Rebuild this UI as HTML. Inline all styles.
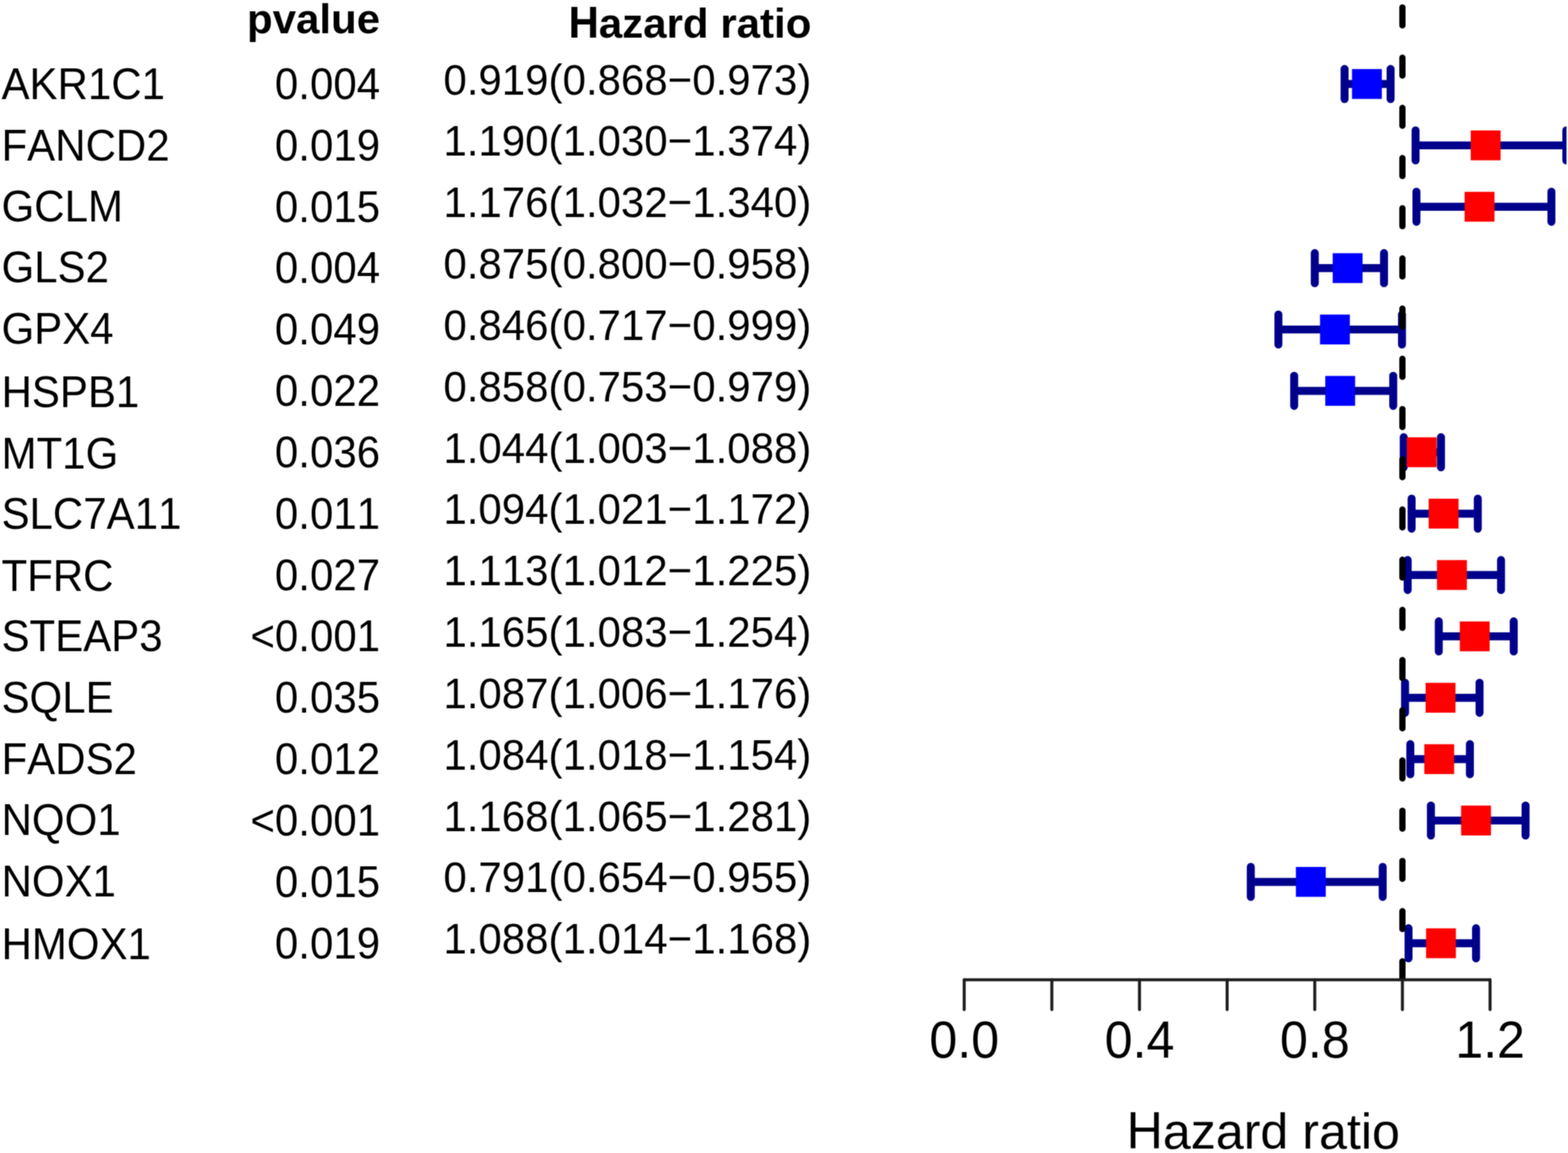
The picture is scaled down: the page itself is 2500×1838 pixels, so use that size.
<!DOCTYPE html><html><head><meta charset="utf-8"><title>Forest plot</title><style>html,body{margin:0;padding:0;background:#fff;}svg{display:block;}text{font-kerning:none;font-feature-settings:"kern" 0,"liga" 0;font-family:"Liberation Sans",Arial,Helvetica,sans-serif;fill:#000;}</style></head><body>
<div id="w"><svg width="2500" height="1838" viewBox="0 0 2500 1838">
<defs><filter id="soft" filterUnits="userSpaceOnUse" x="0" y="0" width="2500" height="1838" color-interpolation-filters="sRGB"><feConvolveMatrix order="3" kernelMatrix="1 2 1 2 4 2 1 2 1" divisor="16" edgeMode="duplicate"/></filter></defs>
<g filter="url(#soft)">
<rect width="2500" height="1838" fill="#fff"/>
<defs><clipPath id="pr"><rect x="1532.3" y="-100" width="965.3" height="1662.3"/></clipPath></defs>
<g font-size="67">
<text x="606" y="52.9" text-anchor="end" font-weight="bold">pvalue</text>
<text x="1293.6" y="60.4" text-anchor="end" font-weight="bold">azard ratio</text>
<text transform="translate(954.77 60.4) scale(1 1.040)" text-anchor="end" font-weight="bold">H</text>
<text transform="translate(2.4 158.4) scale(1 1.040)">AKR1C1</text>
<text transform="translate(606 157.95) scale(1 1.040)" text-anchor="end">0.004</text>
<text transform="translate(1293.6 150.65) scale(1 1.035)" text-anchor="end">0.919(0.868−0.973)</text>
<text transform="translate(2.4 256.2) scale(1 1.040)">FANCD2</text>
<text transform="translate(606 255.78) scale(1 1.040)" text-anchor="end">0.019</text>
<text transform="translate(1293.6 248.48) scale(1 1.035)" text-anchor="end">1.190(1.030−1.374)</text>
<text transform="translate(2.4 353.2) scale(1 1.040)">GCLM</text>
<text transform="translate(606 353.6) scale(1 1.040)" text-anchor="end">0.015</text>
<text transform="translate(1293.6 346.3) scale(1 1.035)" text-anchor="end">1.176(1.032−1.340)</text>
<text transform="translate(2.4 450.4) scale(1 1.040)">GLS2</text>
<text transform="translate(606 451.43) scale(1 1.040)" text-anchor="end">0.004</text>
<text transform="translate(1293.6 444.13) scale(1 1.035)" text-anchor="end">0.875(0.800−0.958)</text>
<text transform="translate(2.4 547.65) scale(1 1.040)">GPX4</text>
<text transform="translate(606 549.26) scale(1 1.040)" text-anchor="end">0.049</text>
<text transform="translate(1293.6 541.96) scale(1 1.035)" text-anchor="end">0.846(0.717−0.999)</text>
<text transform="translate(2.4 648.5) scale(1 1.040)">HSPB1</text>
<text transform="translate(606 647.08) scale(1 1.040)" text-anchor="end">0.022</text>
<text transform="translate(1293.6 639.78) scale(1 1.035)" text-anchor="end">0.858(0.753−0.979)</text>
<text transform="translate(2.4 746.5) scale(1 1.040)">MT1G</text>
<text transform="translate(606 744.91) scale(1 1.040)" text-anchor="end">0.036</text>
<text transform="translate(1293.6 737.61) scale(1 1.035)" text-anchor="end">1.044(1.003−1.088)</text>
<text transform="translate(2.4 843.25) scale(1 1.040)">SLC7A11</text>
<text transform="translate(606 842.74) scale(1 1.040)" text-anchor="end">0.011</text>
<text transform="translate(1293.6 835.44) scale(1 1.035)" text-anchor="end">1.094(1.021−1.172)</text>
<text transform="translate(2.4 941.5) scale(1 1.040)">TFRC</text>
<text transform="translate(606 940.57) scale(1 1.040)" text-anchor="end">0.027</text>
<text transform="translate(1293.6 933.27) scale(1 1.035)" text-anchor="end">1.113(1.012−1.225)</text>
<text transform="translate(2.4 1038.25) scale(1 1.040)">STEAP3</text>
<text transform="translate(606 1038.39) scale(1 1.040)" text-anchor="end">&lt;0.001</text>
<text transform="translate(1293.6 1031.09) scale(1 1.035)" text-anchor="end">1.165(1.083−1.254)</text>
<text transform="translate(2.4 1136) scale(1 1.040)">SQLE</text>
<text transform="translate(606 1136.22) scale(1 1.040)" text-anchor="end">0.035</text>
<text transform="translate(1293.6 1128.92) scale(1 1.035)" text-anchor="end">1.087(1.006−1.176)</text>
<text transform="translate(2.4 1233.75) scale(1 1.040)">FADS2</text>
<text transform="translate(606 1234.05) scale(1 1.040)" text-anchor="end">0.012</text>
<text transform="translate(1293.6 1226.75) scale(1 1.035)" text-anchor="end">1.084(1.018−1.154)</text>
<text transform="translate(2.4 1331.25) scale(1 1.040)">NQO1</text>
<text transform="translate(606 1331.87) scale(1 1.040)" text-anchor="end">&lt;0.001</text>
<text transform="translate(1293.6 1324.57) scale(1 1.035)" text-anchor="end">1.168(1.065−1.281)</text>
<text transform="translate(2.4 1428.9) scale(1 1.040)">NOX1</text>
<text transform="translate(606 1429.7) scale(1 1.040)" text-anchor="end">0.015</text>
<text transform="translate(1293.6 1422.4) scale(1 1.035)" text-anchor="end">0.791(0.654−0.955)</text>
<text transform="translate(2.4 1528.7) scale(1 1.040)">HMOX1</text>
<text transform="translate(606 1527.53) scale(1 1.040)" text-anchor="end">0.019</text>
<text transform="translate(1293.6 1520.23) scale(1 1.035)" text-anchor="end">1.088(1.014−1.168)</text>
</g>
<g clip-path="url(#pr)" stroke="#00008b" stroke-width="12.7" stroke-linecap="round" fill="none">
<path d="M2143.77 133.9H2217.14M2143.77 109.9V157.9M2217.14 109.9V157.9"/>
<path d="M2256.96 231.74H2497.31M2256.96 207.74V255.74M2497.31 207.74V255.74"/>
<path d="M2258.36 329.58H2473.56M2258.36 305.58V353.58M2473.56 305.58V353.58"/>
<path d="M2096.26 427.42H2206.65M2096.26 403.42V451.42M2206.65 403.42V451.42"/>
<path d="M2038.27 525.26H2235.3M2038.27 501.26V549.26M2235.3 501.26V549.26"/>
<path d="M2063.42 623.1H2221.33M2063.42 599.1V647.1M2221.33 599.1V647.1"/>
<path d="M2238.1 720.94H2297.49M2238.1 696.94V744.94M2297.49 696.94V744.94"/>
<path d="M2250.67 818.78H2356.18M2250.67 794.78V842.78M2356.18 794.78V842.78"/>
<path d="M2244.38 916.62H2393.21M2244.38 892.62V940.62M2393.21 892.62V940.62"/>
<path d="M2293.99 1014.46H2413.47M2293.99 990.46V1038.46M2413.47 990.46V1038.46"/>
<path d="M2240.19 1112.3H2358.97M2240.19 1088.3V1136.3M2358.97 1088.3V1136.3"/>
<path d="M2248.58 1210.14H2343.6M2248.58 1186.14V1234.14M2343.6 1186.14V1234.14"/>
<path d="M2281.42 1307.98H2432.33M2281.42 1283.98V1331.98M2432.33 1283.98V1331.98"/>
<path d="M1994.25 1405.82H2204.56M1994.25 1381.82V1429.82M2204.56 1381.82V1429.82"/>
<path d="M2245.78 1503.66H2353.38M2245.78 1479.66V1527.66M2353.38 1479.66V1527.66"/>
</g>
<g clip-path="url(#pr)"><path d="M2236 -68.13V1600" stroke="#000" stroke-width="10" stroke-linecap="round" stroke-dasharray="28.6 51.43" fill="none"/></g>
<rect x="2155.61" y="110.1" width="47.6" height="47.6" fill="#0000ff"/>
<rect x="2344.95" y="207.94" width="47.6" height="47.6" fill="#ff0000"/>
<rect x="2335.17" y="305.78" width="47.6" height="47.6" fill="#ff0000"/>
<rect x="2124.86" y="403.62" width="47.6" height="47.6" fill="#0000ff"/>
<rect x="2104.6" y="501.46" width="47.6" height="47.6" fill="#0000ff"/>
<rect x="2112.98" y="599.3" width="47.6" height="47.6" fill="#0000ff"/>
<rect x="2242.94" y="697.14" width="47.6" height="47.6" fill="#ff0000"/>
<rect x="2277.88" y="794.98" width="47.6" height="47.6" fill="#ff0000"/>
<rect x="2291.15" y="892.82" width="47.6" height="47.6" fill="#ff0000"/>
<rect x="2327.49" y="990.66" width="47.6" height="47.6" fill="#ff0000"/>
<rect x="2272.99" y="1088.5" width="47.6" height="47.6" fill="#ff0000"/>
<rect x="2270.89" y="1186.34" width="47.6" height="47.6" fill="#ff0000"/>
<rect x="2329.58" y="1284.18" width="47.6" height="47.6" fill="#ff0000"/>
<rect x="2066.17" y="1382.02" width="47.6" height="47.6" fill="#0000ff"/>
<rect x="2273.69" y="1479.86" width="47.6" height="47.6" fill="#ff0000"/>
<g stroke="#1e1e1e" stroke-width="4.8" stroke-linecap="round" fill="none">
<path d="M1537.3 1561.9H2375.74"/>
<path d="M1537.3 1561.9V1609.4"/>
<path d="M1677.04 1561.9V1609.4"/>
<path d="M1816.78 1561.9V1609.4"/>
<path d="M1956.52 1561.9V1609.4"/>
<path d="M2096.26 1561.9V1609.4"/>
<path d="M2236 1561.9V1609.4"/>
<path d="M2375.74 1561.9V1609.4"/>
</g>
<g font-size="80" text-anchor="middle">
<text transform="translate(1537.3 1686.3) scale(1 1.040)">0.0</text>
<text transform="translate(1816.78 1686.3) scale(1 1.040)">0.4</text>
<text transform="translate(2096.26 1686.3) scale(1 1.040)">0.8</text>
<text transform="translate(2375.74 1686.3) scale(1 1.040)">1.2</text>
</g>
<text transform="translate(1796.2 1830.8) scale(1 1.040)" font-size="80">H</text>
<text x="1853.97" y="1830.8" font-size="80">azard ratio</text>
</g>
</svg></div></body></html>
